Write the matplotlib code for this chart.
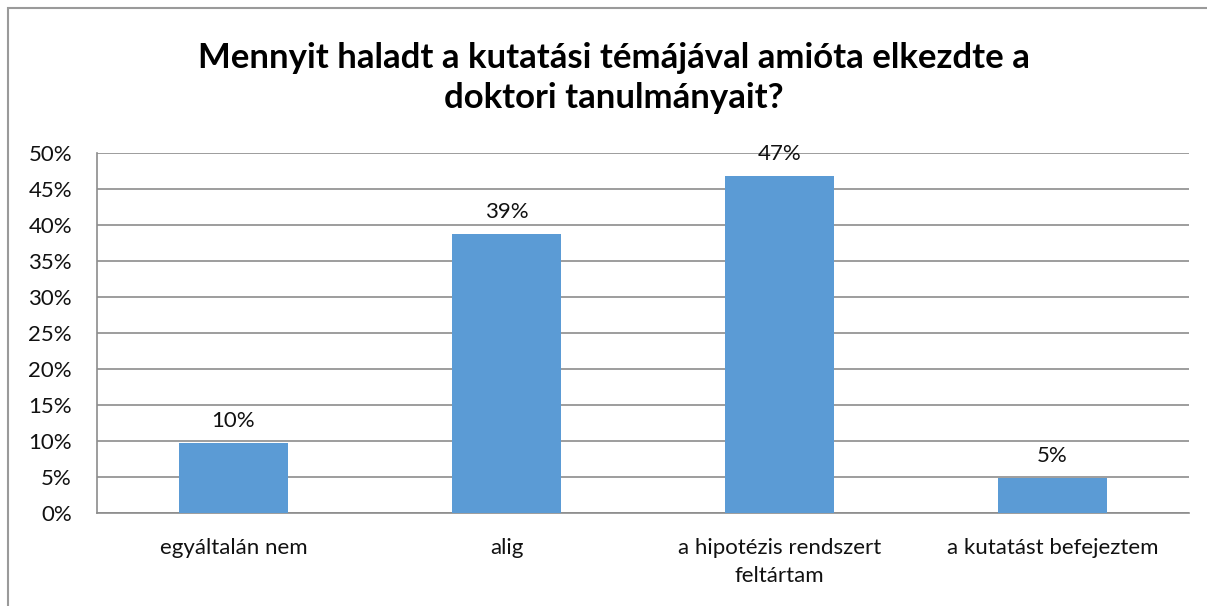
import matplotlib.pyplot as plt
from matplotlib.patches import Rectangle

plt.rcParams['font.family'] = ['Lato', 'DejaVu Sans']

# data
categories = ['egyáltalán nem', 'alig', 'a hipotézis rendszert\nfeltártam', 'a kutatást befejeztem']
values = [9.7, 38.7, 46.8, 4.8]
labels = ['10%', '39%', '47%', '5%']
title = 'Mennyit haladt a kutatási témájával amióta elkezdte a\ndoktori tanulmányait?'

fig = plt.figure(figsize=(12.07, 6.06), dpi=100)
W, H = 1207, 606
left, right, top, bottom = 97, 1189, 153, 513
ax = fig.add_axes([left / W, 1 - bottom / H, (right - left) / W, (bottom - top) / H])

# chart frame (only top and left visible)
fig.patches.append(Rectangle((8 / W, -0.1), 1.2, 1 - 8 / H + 0.1, transform=fig.transFigure,
                             fill=False, edgecolor='#9a9a9a', linewidth=1.5))

x = range(len(categories))
ax.bar(x, values, width=0.4, color='#5B9BD5', zorder=3)
for i, v in enumerate(values):
    ax.annotate(labels[i], (i, v), xytext=(0, 9), textcoords='offset points',
                ha='center', va='bottom', fontsize=16, color='#111111', zorder=4)

ax.set_xlim(-0.5, len(categories) - 0.5)
ax.set_ylim(0, 50)
ax.set_yticks(range(0, 51, 5))
ax.set_yticklabels([f'{t}%' for t in range(0, 51, 5)])
ax.set_xticks(list(x))
ax.set_xticklabels(categories, linespacing=1.5)
ax.grid(axis='y', color='#8c8c8c', linewidth=1.2, zorder=0)
ax.tick_params(axis='both', length=0, labelsize=16, colors='#111111')
ax.tick_params(axis='x', pad=18)
ax.tick_params(axis='y', pad=18)
for s in ['top', 'right']:
    ax.spines[s].set_visible(False)
for s in ['left', 'bottom']:
    ax.spines[s].set_color('#8c8c8c')
    ax.spines[s].set_linewidth(1.2)

fig.text(614 / W, 1 - 78 / H, title, ha='center', va='center', fontsize=25,
         fontweight='bold', linespacing=1.3)

fig.savefig('out.png', dpi=100)
